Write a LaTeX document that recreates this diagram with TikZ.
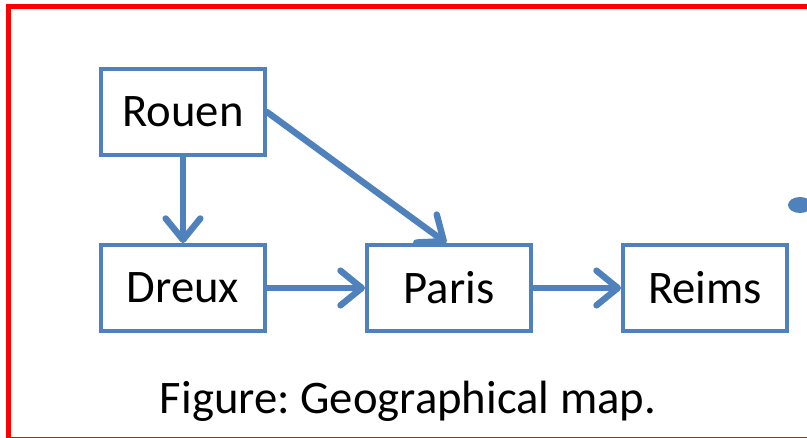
\documentclass[tikz,border=0pt]{standalone}
\usepackage{fontspec}
\setmainfont{Carlito}
\frenchspacing
\usetikzlibrary{arrows.meta}
\definecolor{cityblue}{RGB}{79,129,189}
\tikzset{
  city/.style={draw=cityblue, line width=3pt, minimum width=123pt, minimum height=64.5pt, inner sep=0pt, font=\fontsize{35}{42}\selectfont},
  road/.style={draw=cityblue, line width=4.8pt, line cap=round, -{Straight Barb[length=16pt,width=26pt,round]}}
}
\begin{document}
\begin{tikzpicture}[x=0.75pt,y=0.75pt,yscale=-1,xscale=1]
\useasboundingbox (0,0) rectangle (807,437);

% Frame
\draw [color=red, line width=3.5pt] (8.5,6.5) rectangle (840,439.5);
% Dot at right edge
\fill [cityblue] (800,205) ellipse [x radius=12, y radius=8];

% Cities
\node [city] (rouen) at (183,112) {Rouen};
\node [city] (dreux) at (183,288) {Dreux};
\node [city] (paris) at (449,288) {Paris};
\node [city] (reims) at (705,288) {Reims};

% Roads
\draw [road] (rouen.east) -- ([xshift=-2]paris.north);
\draw [road] (rouen.south) -- (dreux.north);
\draw [road] (dreux.east) -- (paris.west);
\draw [road] (paris.east) -- (reims.west);

% Caption
\node [font=\fontsize{35}{42}\selectfont] (caption) at (408,401) {Figure: Geographical map.};

\end{tikzpicture}
\end{document}
